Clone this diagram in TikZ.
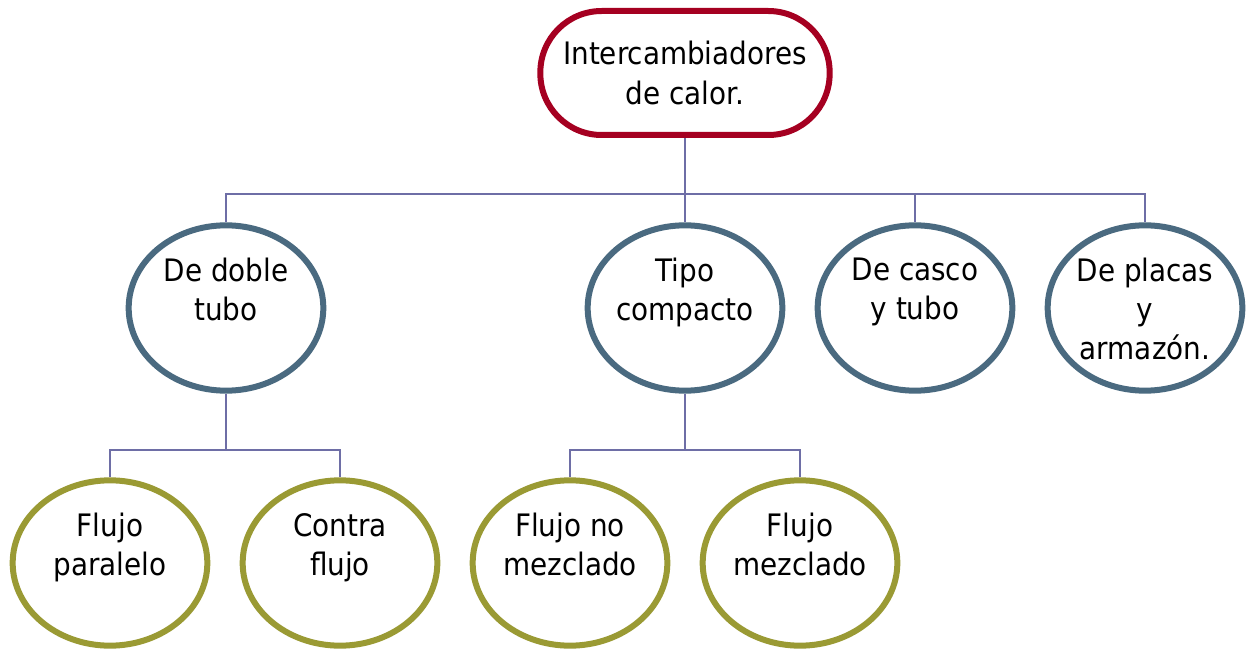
\documentclass[tikz,border=0pt]{standalone}
\usepackage{fontspec}
\setmainfont{DejaVu Sans Condensed}
\usetikzlibrary{shapes.geometric, backgrounds}

\definecolor{toprojo}{HTML}{A50021}
\definecolor{midazul}{HTML}{4A6A80}
\definecolor{bajoliva}{HTML}{9A9A34}
\definecolor{conector}{HTML}{6E6EA6}

\tikzset{
    raiz/.style={rectangle, draw=toprojo, line width=4.5pt, fill=white, rounded corners=46pt,
        minimum width=217pt, minimum height=93pt, align=center, inner sep=0pt},
    tipo/.style={ellipse, draw=midazul, line width=4.5pt, fill=white,
        minimum width=146pt, minimum height=124pt, inner sep=0pt},
    sub/.style={ellipse, draw=bajoliva, line width=4.5pt, fill=white,
        minimum width=146pt, minimum height=124pt, inner sep=0pt},
    txt/.style={anchor=north, align=center, inner sep=0pt},
    conn/.style={draw=conector, line width=1.25pt}
}

\begin{document}
\fontsize{23.2}{29.3}\selectfont
\begin{tikzpicture}[x=0.75pt, y=-0.75pt]
    \useasboundingbox (0,0) rectangle (1246,649);

    % Draw nodes
    \node[raiz] (raiz) at (685,73) {Intercambiadores\\de calor.};

    \node[tipo] (doble) at (226,308) {};
    \node[tipo] (compacto) at (685,308) {};
    \node[tipo] (casco) at (915,308) {};
    \node[tipo] (placas) at (1145,308) {};

    \node[sub] (paralelo) at (110,563) {};
    \node[sub] (contra) at (340,563) {};
    \node[sub] (nomezclado) at (570,563) {};
    \node[sub] (mezclado) at (800,563) {};

    % Labels
    \node[txt] (doble-t) at (226,258) {De doble\\tubo};
    \node[txt] (compacto-t) at (685,258) {Tipo\\compacto};
    \node[txt] (casco-t) at (915,258) {De casco\\y tubo};
    \node[txt] (placas-t) at (1145,258) {De placas\\y\\armazón.};

    \node[txt] (paralelo-t) at (110,513) {Flujo\\paralelo};
    \node[txt] (contra-t) at (340,513) {Contra\\flujo};
    \node[txt] (nomezclado-t) at (570,513) {Flujo no\\mezclado};
    \node[txt] (mezclado-t) at (800,513) {Flujo\\mezclado};

    % Draw connections
    \coordinate (bus) at (685,194);
    \coordinate (busdoble) at (226,450);
    \coordinate (buscompacto) at (685,450);
    \begin{scope}[on background layer]
        \draw[conn] (raiz.south) -- (bus);
        \foreach \n in {doble, compacto, casco, placas}
            \draw[conn] (bus) -| (\n.north);
        \draw[conn] (doble.south) -- (busdoble);
        \draw[conn] (busdoble) -| (paralelo.north);
        \draw[conn] (busdoble) -| (contra.north);
        \draw[conn] (compacto.south) -- (buscompacto);
        \draw[conn] (buscompacto) -| (nomezclado.north);
        \draw[conn] (buscompacto) -| (mezclado.north);
    \end{scope}
\end{tikzpicture}
\end{document}
